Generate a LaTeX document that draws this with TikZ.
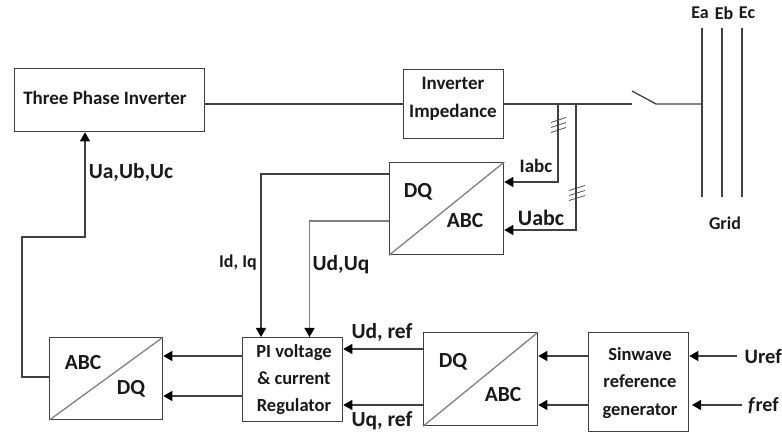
\documentclass[tikz,border=0pt]{standalone}
\usepackage{fontspec}
\setmainfont{Carlito}
\usetikzlibrary{arrows.meta}
\definecolor{ln}{HTML}{404040}
\newcommand{\fs}[2]{\fontsize{#1}{#2}\selectfont\bfseries}
\tikzset{
  x=1pt,y=-1pt,
  box/.style={draw=ln,line width=1.3pt,inner sep=0},
  wire/.style={draw=ln,line width=1.3pt},
  arr/.style={wire,-{Triangle[length=9pt,width=10pt,color=black]}},
  lab/.style={text=black!90,inner sep=0,align=center},
  tick/.style={draw=ln,line width=.7pt},
}
\newcommand{\blk}[5]{\node[box,anchor=north west,minimum width=#3 pt,minimum height=#4 pt] (#5) at (#1,#2) {};}
\begin{document}
\begin{tikzpicture}
\useasboundingbox (0,0) rectangle (782,435);
\blk{13.5}{68}{190.5}{63}{inv}
\blk{403}{69}{100}{69}{imp}
\blk{389}{162}{114}{92}{dq1}
\blk{49}{337}{113}{82}{abc}
\blk{242}{337}{100}{84}{pi}
\blk{423}{332}{114}{93}{dq2}
\blk{588}{332}{100}{99}{sin}
\node[lab,font=\fs{19}{19}] (tinv) at (105,98) {Three Phase Inverter};
\node[lab,font=\fs{19}{28}] (timp) at (453,99) {Inverter\\Impedance};
\node[lab,font=\fs{18.5}{27}] (tpi) at (294,380) {PI voltage\\\& current\\Regulator};
\node[lab,font=\fs{18.5}{27.5}] (tsin) at (640,383) {Sinwave\\reference\\generator};
\draw[wire,draw=gray] (dq1.north east) -- (dq1.south west);
\draw[wire,draw=gray] (abc.north east) -- (abc.south west);
\draw[wire,draw=gray] (dq2.north east) -- (dq2.south west);
\node[lab,font=\fs{21.5}{21.5}] (a1) at (418,192) {DQ};
\node[lab,font=\fs{21.5}{21.5}] (a2) at (465,221) {ABC};
\node[lab,font=\fs{21.5}{21.5}] (a3) at (83,363) {ABC};
\node[lab,font=\fs{21.5}{21.5}] (a4) at (131,389) {DQ};
\node[lab,font=\fs{21.5}{21.5}] (a5) at (453,362) {DQ};
\node[lab,font=\fs{21.5}{21.5}] (a6) at (503,395) {ABC};
% power line
\coordinate (sw1) at (632,104);
\coordinate (sw0) at (632,91);
\coordinate (sw2) at (656,104);
\coordinate (b1t) at (702,28);
\coordinate (b1b) at (702,197);
\coordinate (b2t) at (722,28);
\coordinate (b2b) at (722,197);
\coordinate (b3t) at (742,28);
\coordinate (b3b) at (742,197);
\coordinate (bj) at (702,104);
\draw[wire] (inv.east |- 0,104) -- (imp.west |- 0,104);
\draw[wire] (imp.east |- 0,104) -- (sw1);
\draw[wire] (sw0) -- (sw2) -- (bj);
\draw[wire] (b1t) -- (b1b);
\draw[wire] (b2t) -- (b2b);
\draw[wire] (b3t) -- (b3b);
\node[lab,font=\fs{18}{18}] (ea) at (700,13) {Ea};
\node[lab,font=\fs{18}{18}] (eb) at (724,13) {Eb};
\node[lab,font=\fs{18}{18}] (ec) at (747,13) {Ec};
\node[lab,font=\fs{18}{18}] (grid) at (725,223) {Grid};
% measurement
\coordinate (i0) at (558,104);
\coordinate (i1) at (558,182);
\coordinate (u0) at (576,104);
\coordinate (u1) at (576,230);
\draw[arr] (i0) -- (i1) -- (dq1.east |- i1);
\draw[arr] (u0) -- (u1) -- (dq1.east |- u1);
\foreach \yy in {-5,0,5} {
  \draw[tick] (551,127.5+\yy) -- (566,122.5+\yy);
  \draw[tick] (569,195.5+\yy) -- (585,190.5+\yy);
}
\node[lab,font=\fs{19}{19}] (li) at (536,166) {Iabc};
\node[lab,font=\fs{22}{22}] (lu) at (541,218) {Uabc};
% feedback
\coordinate (f1a) at (389,174);
\coordinate (f1b) at (261,174);
\coordinate (f2a) at (389,221);
\coordinate (f2b) at (309.5,221);
\draw[arr] (f1a) -- (f1b) -- (f1b |- pi.north);
\draw[arr,draw=gray] (f2a) -- (f2b) -- (f2b |- pi.north);
\node[lab,font=\fs{18}{18}] (lid) at (238,263) {Id, Iq};
\node[lab,font=\fs{21.5}{21.5}] (lud) at (341,265) {Ud,Uq};
% regulator to abc
\draw[arr] (pi.west |- 0,356) -- (abc.east |- 0,356);
\draw[arr] (pi.west |- 0,396) -- (abc.east |- 0,396);
% abc to inverter
\coordinate (o1) at (22,377);
\coordinate (o2) at (22,237);
\coordinate (o3) at (85,237);
\draw[arr] (abc.west |- o1) -- (o1) -- (o2) -- (o3) -- (o3 |- inv.south);
\node[lab,font=\fs{21.5}{21.5}] (luabc) at (131,172) {Ua,Ub,Uc};
% refs
\draw[arr] (dq2.west |- 0,349) -- (pi.east |- 0,349);
\draw[arr] (dq2.west |- 0,405) -- (pi.east |- 0,405);
\node[lab,font=\fs{21.5}{21.5}] (lud2) at (382,332) {Ud, ref};
\node[lab,font=\fs{21.5}{21.5}] (luq2) at (382,421) {Uq, ref};
\draw[arr] (sin.west |- 0,356) -- (dq2.east |- 0,356);
\draw[arr] (sin.west |- 0,405) -- (dq2.east |- 0,405);
\coordinate (ur) at (737,356);
\coordinate (fr) at (742,405);
\coordinate (fe) at (692,405);
\draw[arr] (ur) -- (sin.east |- ur);
\draw[arr] (fr) -- (fe);
\node[lab,font=\fs{20.5}{20.5},anchor=west] (lur) at (744.5,356) {Uref};
\node[lab,font=\fs{20}{20},anchor=west] (lfr) at (748,406) {\textit{f}ref};
\end{tikzpicture}
\end{document}
